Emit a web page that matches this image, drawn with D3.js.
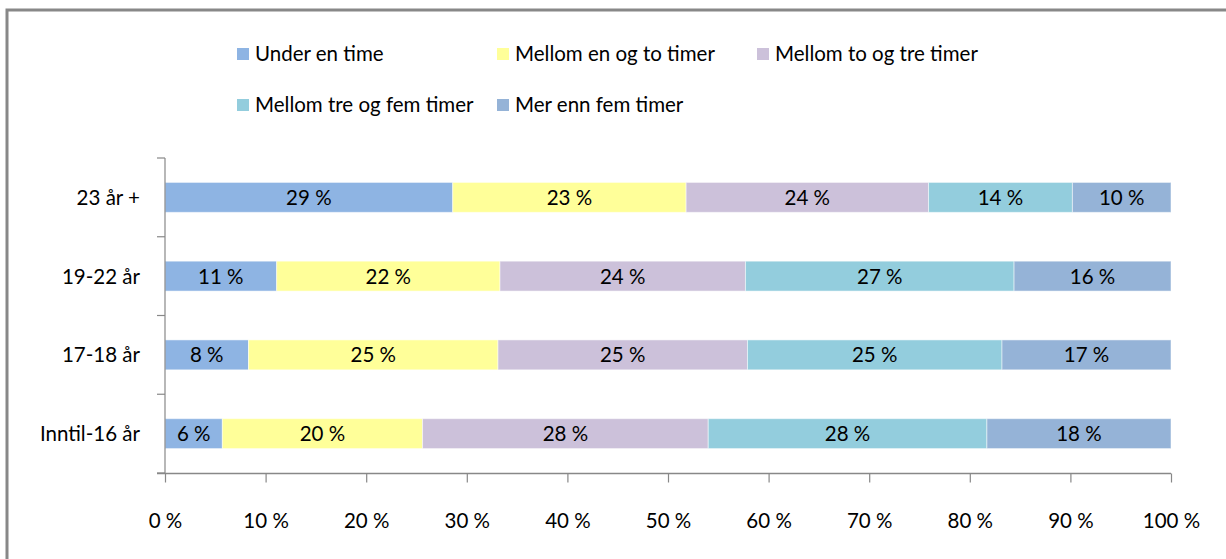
<!DOCTYPE html>
<html><head><meta charset="utf-8">
<script src="https://cdn.jsdelivr.net/npm/d3@7"></script>
<style>body{margin:0;background:#fff}svg{display:block}text{font-family:Lato,"Open Sans",sans-serif}</style>
</head><body><svg id="c" width="1226" height="559"></svg>
<script>
const categories = ["23 år +", "19-22 år", "17-18 år", "Inntil-16 år"];
const seriesNames = ["Under en time", "Mellom en og to timer", "Mellom to og tre timer", "Mellom tre og fem timer", "Mer enn fem timer"];
const underEnTime = [28.6, 11.1, 8.3, 5.7];
const enTilTo = [23.2, 22.2, 24.8, 19.9];
const toTilTre = [24.1, 24.4, 24.8, 28.4];
const treTilFem = [14.3, 26.7, 25.3, 27.7];
const merEnnFem = [9.8, 15.6, 16.8, 18.3];
const xTicks = [0, 10, 20, 30, 40, 50, 60, 70, 80, 90, 100];
const colors = ["#8EB4E3", "#FFFF99", "#CCC1DA", "#93CDDD", "#95B3D7"];

const series = [underEnTime, enTilTo, toTilTre, treTilFem, merEnnFem];
const rows = categories.map((c, i) => {
  const o = {cat: c};
  seriesNames.forEach((s, j) => o[s] = series[j][i]);
  return o;
});
const stack = d3.stack().keys(seriesNames)(rows);
const FS = 20.5;

const svg = d3.select("#c");
svg.append("rect").attr("x", 7).attr("y", 10).attr("width", 1240).attr("height", 600)
  .attr("fill", "none").attr("stroke", "#888").attr("stroke-width", 3);

const x = d3.scaleLinear().domain([0, 100]).range([165, 1171]);
const y = d3.scaleBand().domain(categories).range([158, 473]).paddingInner(0.62).paddingOuter(0.31);
const yb = d3.scaleBand().domain(categories).range([158, 473]);

const g = svg.append("g");
stack.forEach((layer, j) => {
  g.selectAll(null).data(layer).enter().append("rect")
    .attr("x", d => x(d[0]))
    .attr("width", d => x(d[1]) - x(d[0]))
    .attr("y", d => y(d.data.cat))
    .attr("height", y.bandwidth())
    .attr("fill", colors[j])
    .attr("stroke", "rgba(255,255,255,0.5)").attr("stroke-width", 1);
  g.selectAll(null).data(layer).enter().append("text")
    .attr("x", d => (x(d[0]) + x(d[1])) / 2)
    .attr("y", d => y(d.data.cat) + y.bandwidth() / 2)
    .attr("dy", "0.36em").attr("text-anchor", "middle")
    .attr("font-size", FS).attr("fill", "#000")
    .text(d => Math.round(d[1] - d[0]) + " %");
});

const yAxis = svg.append("g").attr("transform", "translate(165,0)");
yAxis.append("line").attr("x1", 0).attr("x2", 0).attr("y1", 158).attr("y2", 474).attr("stroke", "#888").attr("stroke-width", 1.2);
const yTickPos = categories.map(c => yb(c)).concat([yb.range()[1]]);
yAxis.selectAll(null).data(yTickPos).enter().append("line")
  .attr("x1", -8).attr("x2", 0).attr("y1", d => d).attr("y2", d => d).attr("stroke", "#888").attr("stroke-width", 1.2);
yAxis.selectAll(null).data(categories).enter().append("text")
  .attr("x", -25).attr("y", d => yb(d) + yb.bandwidth() / 2).attr("dy", "0.36em")
  .attr("text-anchor", "end").attr("font-size", FS).attr("fill", "#000").text(d => d);

const xAxis = d3.axisBottom(x).tickValues(xTicks).tickSize(9).tickFormat(d => d + " %");
const xa = svg.append("g").attr("transform", "translate(0,473.5)").call(xAxis);
xa.select(".domain").attr("stroke", "#888").attr("stroke-width", 1.5).attr("d", "M157,0H1171");
xa.selectAll(".tick line").attr("stroke", "#888").attr("stroke-width", 1.2);
xa.selectAll(".tick text").attr("font-size", FS).attr("fill", "#000").attr("y", 47).attr("dy", "0.36em")
  .attr("font-family", "Lato,'Open Sans',sans-serif");

const legPos = [[237, 54], [497, 54], [757, 54], [237, 105], [497, 105]];
const leg = svg.append("g");
seriesNames.forEach((s, i) => {
  const [lx, ly] = legPos[i];
  leg.append("rect").attr("x", lx).attr("y", ly - 6).attr("width", 12).attr("height", 12).attr("fill", colors[i]);
  leg.append("text").attr("x", lx + 18).attr("y", ly).attr("dy", "0.36em")
    .attr("font-size", FS).attr("fill", "#000").text(s);
});
</script></body></html>
